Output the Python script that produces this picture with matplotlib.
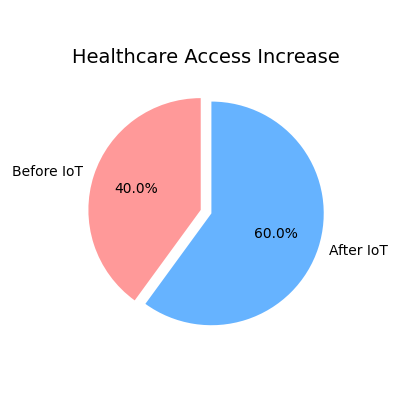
import matplotlib
matplotlib.use('Agg')
import matplotlib.pyplot as plt

# data
labels = ['Before IoT', 'After IoT']
sizes = [40, 60]
colors = ['#ff9999', '#66b3ff']
explode = (0.1, 0)

fig, ax = plt.subplots(figsize=(4, 4), dpi=100)
ax.pie(sizes, explode=explode, labels=labels, colors=colors,
       autopct='%1.1f%%', startangle=90)
ax.axis('equal')
ax.set_title('Healthcare Access Increase', fontsize=14)
plt.tight_layout()
# nudge title down and widen pie a touch
pos = ax.get_position()
ax.set_position([pos.x0 - 0.005, pos.y0 - 0.005, pos.width + 0.01, pos.height + 0.01])
ax.set_title('Healthcare Access Increase', fontsize=14, y=0.9)
fig.savefig('out.png')
